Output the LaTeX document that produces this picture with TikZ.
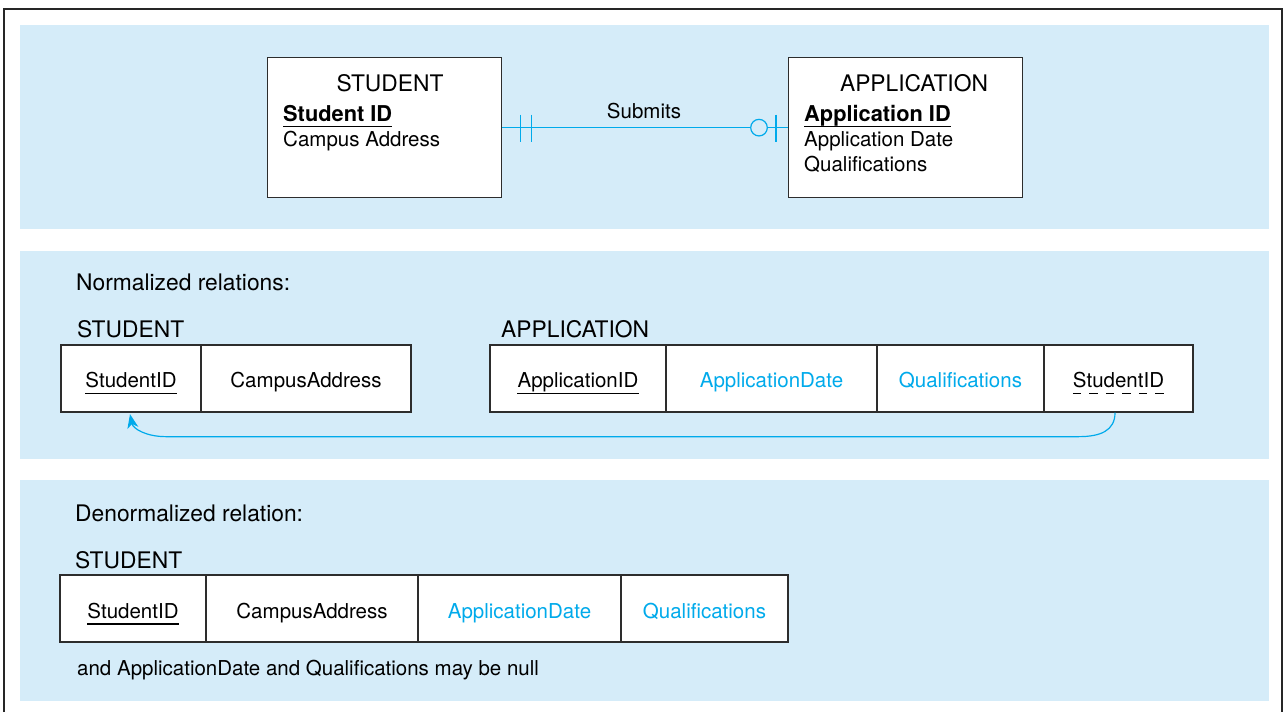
\documentclass[tikz,border=0pt]{standalone}
\usepackage{fontspec}
\setmainfont{TeX Gyre Heros}
\usetikzlibrary{calc,arrows.meta}
\definecolor{panelblue}{RGB}{213,236,249}
\definecolor{cyanline}{RGB}{0,170,235}
\definecolor{boxgray}{RGB}{45,45,45}
\begin{document}
\begin{tikzpicture}[x=1pt,y=-1pt,
  body/.style={font=\fontsize{20.5}{24}\selectfont, inner sep=0pt},
  bodyb/.style={font=\fontsize{21.8}{24}\selectfont\bfseries, inner sep=0pt},
  bodyc/.style={body, text=cyanline},
  lab/.style={font=\fontsize{22.8}{26}\selectfont, inner sep=0pt},
  cell/.style={draw=boxgray, line width=1.3pt, fill=white, inner sep=0pt},
  conn/.style={draw=cyanline, line width=1.2pt},
  uline/.style={draw=black, line width=1.2pt},
  dline/.style={draw=black, line width=1.2pt, dash pattern=on 8.5pt off 8pt}
]
\useasboundingbox (0,0) rectangle (1284,712);
% frame
\draw[line width=1.6pt, black!85] (4,712) -- (4,9) -- (1282,9) -- (1282,712);
% panels
\fill[panelblue] (20,25) rectangle (1269,229);
\fill[panelblue] (20,251) rectangle (1269,459);
\fill[panelblue] (20,480) rectangle (1269,701);

% ===== ER diagram =====
\node[cell, minimum width=234, minimum height=140, anchor=north west] (stu) at (267,57) {};
\node[cell, minimum width=234, minimum height=140, anchor=north west] (app) at (788,57) {};
\node[lab, anchor=base] (stuT) at (390,91) {STUDENT};
\node[bodyb, anchor=base west] (stuK) at (283,121) {Student ID};
\node[body, anchor=base west] (stuA) at (283,146) {Campus Address};
\draw[uline] ($(stuK.base west)+(0,5.5)$) -- ($(stuK.base east)+(0,5.5)$);
\node[lab, anchor=base] (appT) at (914,91) {APPLICATION};
\node[bodyb, anchor=base west] (appK) at (804,121) {Application ID};
\node[body, anchor=base west] (appA) at (804,146) {Application Date};
\node[body, anchor=base west] (appB) at (804,171) {Qualifications};
\draw[uline] ($(appK.base west)+(0,5.5)$) -- ($(appK.base east)+(0,5.5)$);
% relationship
\draw[conn] (stu.east) -- (app.west);
\node[body, anchor=base] (rel) at (644,118) {Submits};
\draw[conn] ($(stu.east)+(18,-13)$) -- ($(stu.east)+(18,14)$);
\draw[conn] ($(stu.east)+(29,-13)$) -- ($(stu.east)+(29,14)$);
\node[circle, conn, fill=panelblue, minimum size=16.6pt, inner sep=0pt] (opt) at ($(app.west)+(-29,0)$) {};
\draw[conn] ($(app.west)+(-12,-13)$) -- ($(app.west)+(-12,14)$);

% ===== Normalized =====
\node[lab, anchor=base west] (normT) at (76,290) {Normalized relations:};
\node[lab, anchor=base west] (nsT) at (77,337) {STUDENT};
\node[lab, anchor=base west] (naT) at (501,337) {APPLICATION};
% student table
\node[cell, minimum width=140, minimum height=67] (ns1) at (131,378.5) {};
\node[cell, minimum width=210, minimum height=67] (ns2) at (306,378.5) {};
\node[body, anchor=base] (ns1t) at (ns1.center |- 0,387.5) {StudentID};
\node[body, anchor=base] (ns2t) at (ns2.center |- 0,387.5) {CampusAddress};
\draw[uline] ($(ns1t.base west)+(0,6)$) -- ($(ns1t.base east)+(0,6)$);
% application table
\node[cell, minimum width=176, minimum height=67] (na1) at (578,378.5) {};
\node[cell, minimum width=211, minimum height=67] (na2) at (771.5,378.5) {};
\node[cell, minimum width=167, minimum height=67] (na3) at (960.5,378.5) {};
\node[cell, minimum width=149, minimum height=67] (na4) at (1118.5,378.5) {};
\node[body, anchor=base] (na1t) at (na1.center |- 0,387.5) {ApplicationID};
\node[bodyc, anchor=base] (na2t) at (na2.center |- 0,387.5) {ApplicationDate};
\node[bodyc, anchor=base] (na3t) at (na3.center |- 0,387.5) {Qualifications};
\node[body, anchor=base] (na4t) at (na4.center |- 0,387.5) {StudentID};
\draw[uline] ($(na1t.base west)+(0,6)$) -- ($(na1t.base east)+(0,6)$);
\draw[dline] ($(na4t.base west)+(0,6)$) -- ($(na4t.base east)+(0,6)$);
% foreign key arrow
\draw[conn, -{Stealth[length=14pt,width=11pt,inset=4pt]}]
  ($(na4.south)+(-3.5,0)$) .. controls ($(na4.south)+(-3.5,18)$) and ($(na4.south)+(-18,24)$) .. ($(na4.south)+(-40,24)$)
  -- ($(ns1.south)+(35,24)$) .. controls ($(ns1.south)+(15,24)$) and ($(ns1.south)+(2,16)$) .. ($(ns1.south)+(-1,1.5)$);

% ===== Denormalized =====
\node[lab, anchor=base west] (denT) at (75,521) {Denormalized relation:};
\node[lab, anchor=base west] (dsT) at (75,568) {STUDENT};
\node[cell, minimum width=146, minimum height=67] (d1) at (133,608.5) {};
\node[cell, minimum width=212, minimum height=67] (d2) at (312,608.5) {};
\node[cell, minimum width=203, minimum height=67] (d3) at (519.5,608.5) {};
\node[cell, minimum width=167, minimum height=67] (d4) at (704.5,608.5) {};
\node[body, anchor=base] (d1t) at (d1.center |- 0,618) {StudentID};
\node[body, anchor=base] (d2t) at (d2.center |- 0,618) {CampusAddress};
\node[bodyc, anchor=base] (d3t) at (d3.center |- 0,618) {ApplicationDate};
\node[bodyc, anchor=base] (d4t) at (d4.center |- 0,618) {Qualifications};
\draw[uline] ($(d1t.base west)+(0,6)$) -- ($(d1t.base east)+(0,6)$);
\node[body, anchor=base west] (note) at (77,675) {and ApplicationDate and Qualifications may be null};
\end{tikzpicture}
\end{document}
